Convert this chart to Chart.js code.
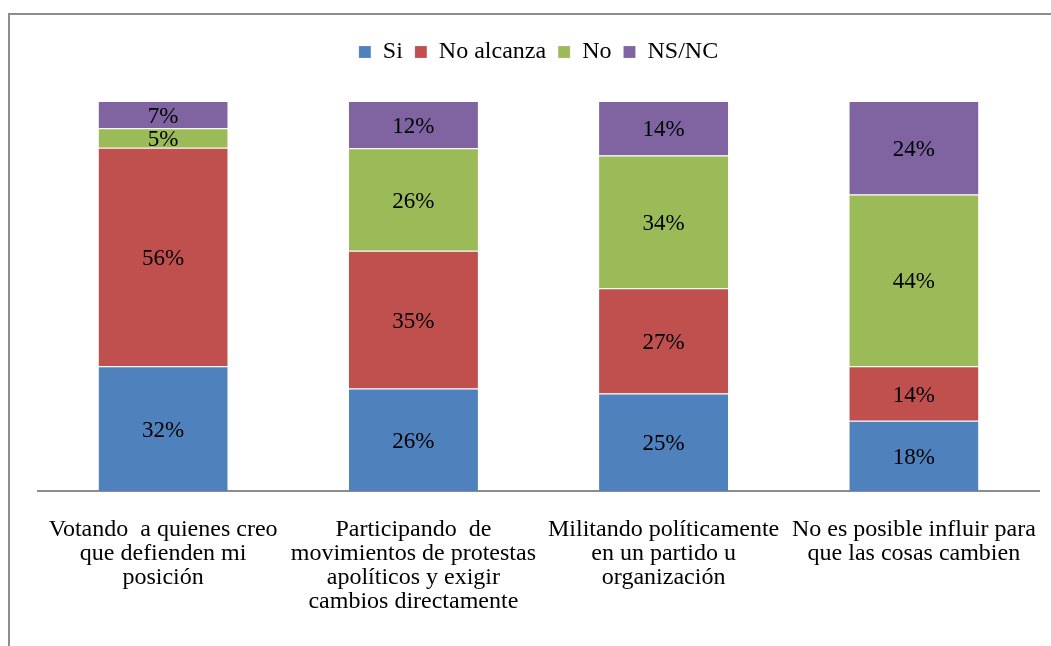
<!DOCTYPE html>
<html>
<head>
<meta charset="utf-8">
<script src="https://cdn.jsdelivr.net/npm/chart.js@4/dist/chart.umd.min.js"></script>
<style>
  body { margin: 0; background: #fff; overflow: hidden; }
  #frame { position: absolute; left: 8px; top: 13px; width: 1200px; height: 800px; border: 2px solid #8c8c8c; }
  #wrap { position: absolute; left: 0; top: 0; width: 1051px; height: 646px; }
</style>
</head>
<body>
<div id="frame"></div>
<div id="wrap"><canvas id="chart"></canvas></div>
<script>
const categories = [
  ["Votando  a quienes creo", "que defienden mi", "posición"],
  ["Participando  de", "movimientos de protestas", "apolíticos y exigir", "cambios directamente"],
  ["Militando políticamente", "en un partido u", "organización"],
  ["No es posible influir para", "que las cosas cambien"],
];
const si = [32, 26, 25, 18];
const noAlcanza = [56, 35, 27, 14];
const no = [5, 26, 34, 44];
const nsnc = [7, 12, 14, 24];

const seriesNames = ["Si", "No alcanza", "No", "NS/NC"];
const seriesValues = [si, noAlcanza, no, nsnc];
const colors = ["#4F81BD", "#C0504D", "#9BBB59", "#8064A2"];

// each bar is drawn as 100% of its own total
const totals = categories.map((_, i) => seriesValues.reduce((s, arr) => s + arr[i], 0));

const serif = "'Liberation Serif', 'Times New Roman', serif";

const valueLabels = {
  id: "valueLabels",
  afterDatasetsDraw(chart) {
    const ctx = chart.ctx;
    ctx.save();
    ctx.font = "23px " + serif;
    ctx.fillStyle = "#000";
    ctx.textAlign = "center";
    ctx.textBaseline = "middle";
    chart.data.datasets.forEach((ds, di) => {
      chart.getDatasetMeta(di).data.forEach((bar, i) => {
        const p = bar.getProps(["x", "y", "base"], true);
        ctx.fillText(ds.raw[i] + "%", p.x, (p.y + p.base) / 2 + 2);
      });
    });
    ctx.restore();
  },
};

// extra room under the legend
const legendGap = {
  id: "legendGap",
  beforeInit(chart) {
    const fit = chart.legend.fit;
    chart.legend.fit = function () {
      fit.call(this);
      this.height += 27;
    };
  },
};

new Chart(document.getElementById("chart"), {
  type: "bar",
  data: {
    labels: categories,
    datasets: seriesNames.map((name, k) => ({
      label: name,
      raw: seriesValues[k],
      data: seriesValues[k].map((v, i) => (v / totals[i]) * 100),
      backgroundColor: colors[k],
      borderColor: "rgba(255,255,255,0.6)",
      borderWidth: { top: 1 },
      borderSkipped: false,
      barPercentage: 0.516,
      categoryPercentage: 1,
    })),
  },
  options: {
    responsive: true,
    maintainAspectRatio: false,
    animation: false,
    layout: { padding: { left: 38, right: 12, top: 28, bottom: 13 } },
    plugins: {
      legend: {
        position: "top",
        labels: {
          boxWidth: 12,
          boxHeight: 12,
          padding: 12,
          color: "#000",
          font: { family: serif, size: 24 },
        },
      },
      tooltip: { enabled: false },
    },
    scales: {
      x: {
        stacked: true,
        grid: { display: false },
        border: { display: true, color: "#8c8c8c", width: 2 },
        ticks: {
          color: "#000",
          maxRotation: 0,
          autoSkip: false,
          padding: 19,
          font: { family: serif, size: 24, lineHeight: 1.0 },
        },
        afterFit(scale) {
          scale.paddingLeft = 0;
          scale.paddingRight = 0;
        },
      },
      y: {
        stacked: true,
        display: false,
        min: 0,
        max: 100,
      },
    },
  },
  plugins: [valueLabels, legendGap],
});
</script>
</body>
</html>
